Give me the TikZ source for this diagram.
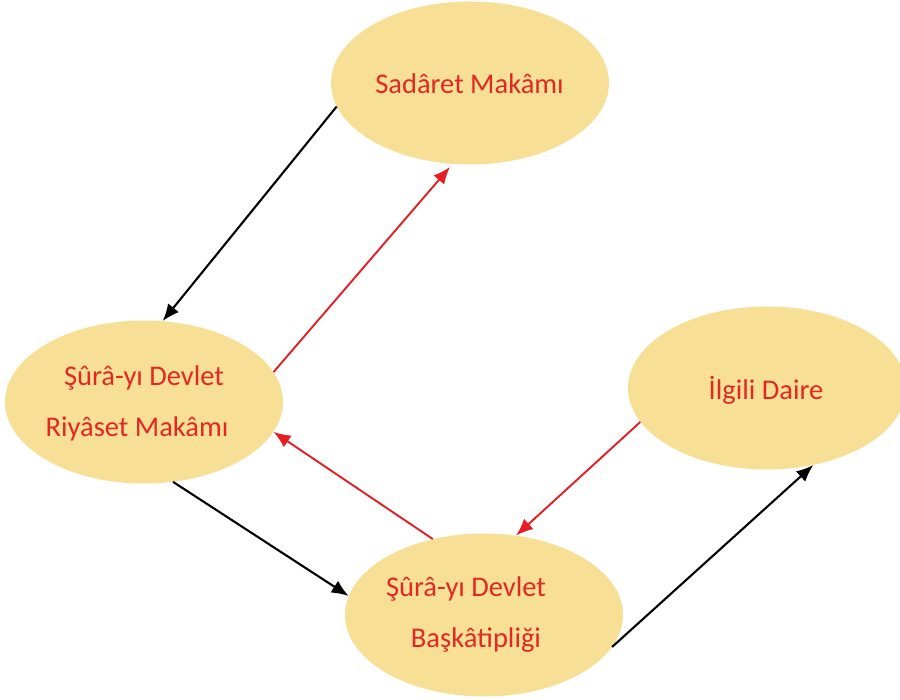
\documentclass[tikz,border=0pt]{standalone}
\usepackage{fontspec}
\setmainfont{Carlito}
\usetikzlibrary{arrows.meta,shapes.geometric}
\definecolor{blobfill}{RGB}{247,223,150}
\definecolor{txtred}{RGB}{226,40,36}
\definecolor{arrred}{RGB}{230,30,36}
\tikzset{
  blob/.style={ellipse,fill=blobfill,draw=none,minimum width=278pt,minimum height=163pt,inner sep=0pt},
  lbl/.style={anchor=base,text=txtred,font=\fontsize{28.5}{33}\selectfont,inner sep=0pt},
  blk/.style={draw=black,line width=2.1pt,-{Latex[length=17pt,width=14pt]}},
  rd/.style={draw=arrred,line width=1.9pt,-{Latex[length=17pt,width=14pt]}}
}
\begin{document}
\begin{tikzpicture}[x=1pt,y=1pt]
\useasboundingbox (0,0) rectangle (900,700);
\fill[white] (0,0) rectangle (900,700);
\node[blob] (sad) at (470,617) {};
\node[blob] (riy) at (144,298) {};
\node[blob] (ilg) at (767,312) {};
\node[blob] (bas) at (484,85) {};
\node[lbl] (sadt) at (469.5,606) {Sadâret Makâmı};
\node[lbl] (riyt1) at (144,314) {Şûrâ-yı Devlet};
\node[lbl] (riyt2) at (137,263) {Riyâset Makâmı};
\node[lbl] (ilgt) at (766,300) {İlgili Daire};
\node[lbl] (bast1) at (466,103) {Şûrâ-yı Devlet};
\node[lbl] (bast2) at (476,52) {Başkâtipliği};
\draw[blk] (sad.190.7) -- (riy.77.3);
\draw[rd] (riy.13.9) -- ([shift={(-20pt,-84pt)}]sad.center);
\draw[rd] (bas.124.7) -- (riy.-13.5);
\draw[blk] (riy.-70) -- (bas.172.7);
\draw[rd] (ilg.195.4) -- (bas.68.8);
\draw[blk] (bas.-14.1) -- (ilg.301.4);
\end{tikzpicture}
\end{document}
